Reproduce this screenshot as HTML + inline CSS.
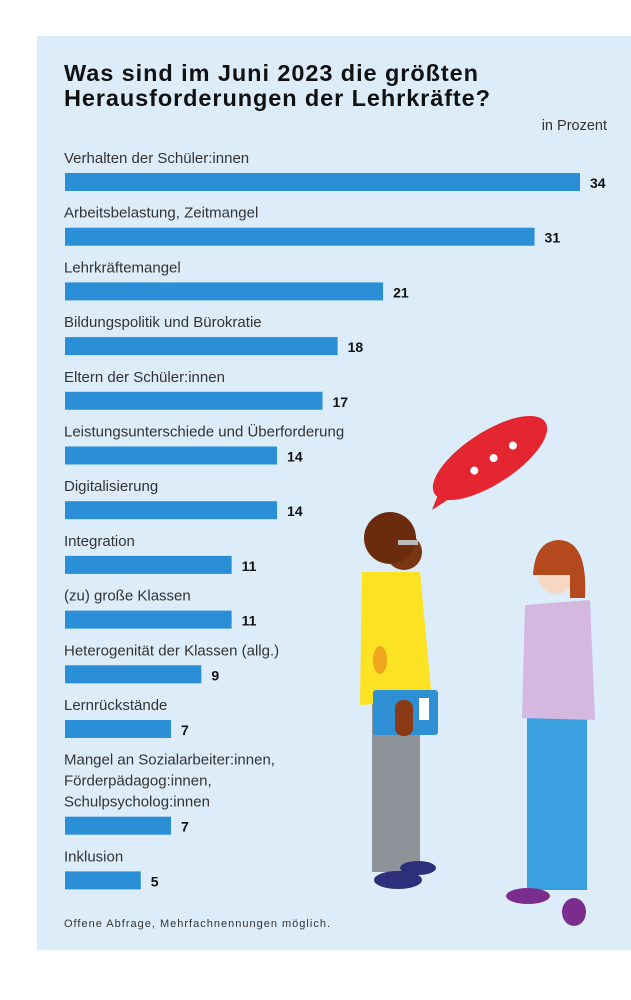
<!DOCTYPE html>
<html><head><meta charset="utf-8"><style>
body{margin:0;background:#fff;width:631px;height:1000px;overflow:hidden;font-family:"Liberation Sans",sans-serif}
svg{position:absolute;left:0;top:0}
</style></head><body>
<svg width="631" height="1000">
<rect x="37" y="36" width="594" height="914" fill="#dcedf9"/>
<text x="64" y="81" font-size="23.5" font-weight="bold" fill="#111" textLength="414">Was sind im Juni 2023 die größten</text>
<text x="64" y="106" font-size="23.5" font-weight="bold" fill="#111" textLength="426">Herausforderungen der Lehrkräfte?</text>
<text x="607" y="130" font-size="14.5" fill="#333" text-anchor="end">in Prozent</text>
<g id="bars"></g>
<text x="64" y="927" font-size="11" fill="#333" textLength="266">Offene Abfrage, Mehrfachnennungen möglich.</text>
<g>
<g transform="translate(490,458) rotate(-33)">
<ellipse cx="0" cy="0" rx="66" ry="26" fill="#e3262f"/>
<circle cx="-20" cy="2" r="4" fill="#fff"/><circle cx="3" cy="2" r="4" fill="#fff"/><circle cx="26" cy="2" r="4" fill="#fff"/>
</g>
<polygon points="440,490 432,510 452,497" fill="#e3262f"/>
<rect x="372" y="700" width="48" height="172" fill="#8e9299"/>
<ellipse cx="398" cy="880" rx="24" ry="9" fill="#2d2f7a"/>
<ellipse cx="418" cy="868" rx="18" ry="7" fill="#2d2f7a"/>
<path d="M362,572 L420,572 L432,700 L360,705 Z" fill="#fbe222"/>
<ellipse cx="380" cy="660" rx="7" ry="14" fill="#f0a51c"/>
<rect x="373" y="690" width="65" height="45" rx="3" fill="#2f8fd4"/>
<rect x="419" y="698" width="10" height="22" fill="#fff"/>
<rect x="395" y="700" width="18" height="36" rx="8" fill="#8a3a14"/>
<circle cx="404" cy="552" r="18" fill="#7a3512"/>
<circle cx="390" cy="538" r="26" fill="#6b2c0e"/>
<rect x="398" y="540" width="20" height="5" fill="#bbb"/>
<rect x="527" y="710" width="60" height="180" fill="#3aa0e0"/>
<ellipse cx="528" cy="896" rx="22" ry="8" fill="#7a2d8c"/>
<ellipse cx="574" cy="912" rx="12" ry="14" fill="#7a2d8c"/>
<path d="M525,605 L590,600 L595,720 L522,718 Z" fill="#d4b8e0"/>
<circle cx="556" cy="576" r="18" fill="#f6d7c4"/>
<path d="M533,575 Q535,540 560,540 Q588,542 585,598 L570,598 L570,575 Z" fill="#b5491e"/>
</g>
</svg>
<script>
const labels=[["Verhalten der Schüler:innen"],["Arbeitsbelastung, Zeitmangel"],["Lehrkräftemangel"],["Bildungspolitik und Bürokratie"],["Eltern der Schüler:innen"],["Leistungsunterschiede und Überforderung"],["Digitalisierung"],["Integration"],["(zu) große Klassen"],["Heterogenität der Klassen (allg.)"],["Lernrückstände"],["Mangel an Sozialarbeiter:innen,","Förderpädagog:innen,","Schulpsycholog:innen"],["Inklusion"]];
const values=[34,31,21,18,17,14,14,11,11,9,7,7,5];
const NS="http://www.w3.org/2000/svg";
const g=document.getElementById('bars');
const x0=65, scale=515/34;
function xs(v){return v*scale;}
let y=163;
labels.forEach((lines,i)=>{
  lines.forEach((ln,j)=>{
    const t=document.createElementNS(NS,'text');
    
    
    t.setAttribute('x',64);t.setAttribute('y',y+j*21);
    t.setAttribute('font-size','15');t.setAttribute('fill','#333');
    t.textContent=ln;g.appendChild(t);
  });
  const by=y+(lines.length-1)*21+10;
  const r=document.createElementNS(NS,'rect');
  
  
  r.setAttribute('x',x0);r.setAttribute('y',by);
  r.setAttribute('width',xs(values[i]));r.setAttribute('height',18);
  r.setAttribute('fill','#2a8fd6');g.appendChild(r);
  const v=document.createElementNS(NS,'text');
  
  
  v.setAttribute('x',x0+xs(values[i])+10);v.setAttribute('y',by+15);
  v.setAttribute('font-size','14');v.setAttribute('font-weight','bold');v.setAttribute('fill','#111');
  v.textContent=values[i];g.appendChild(v);
  y=by+44.7;
});
</script>
</body></html>
